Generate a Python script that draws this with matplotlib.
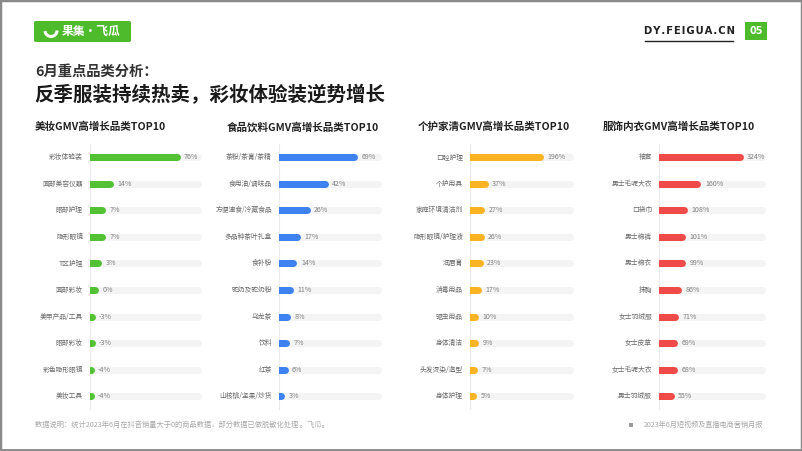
import numpy as np
import matplotlib
matplotlib.use("Agg")
import matplotlib.pyplot as plt
from matplotlib.patches import FancyBboxPatch, Rectangle, Arc

plt.rcParams['font.family'] = ['Noto Sans CJK SC', 'DejaVu Sans']

# ---- data ----
beauty_cats = ["彩妆体验装", "面部美容仪器", "眼部护理", "隐形眼镜", "T区护理",
               "面部彩妆", "美甲产品/工具", "眼部彩妆", "彩色隐形眼镜", "美妆工具"]
beauty_vals = [76, 14, 7, 7, 3, 0, -3, -3, -4, -4]

food_cats = ["茶粉/茶膏/茶精", "食用油/调味品", "方便速食/冷藏食品", "多品种茶叶礼盒", "食补粉",
             "驼奶及驼奶粉", "乌龙茶", "饮料", "红茶", "山核桃/坚果/炒货"]
food_vals = [69, 42, 26, 17, 14, 11, 8, 7, 6, 3]

care_cats = ["口腔护理", "个护用具", "家庭环境清洁剂", "隐形眼镜/护理液", "润唇膏",
             "消毒用品", "驱虫用品", "身体清洁", "头发烫染/造型", "身体护理"]
care_vals = [196, 37, 27, 26, 23, 17, 10, 9, 7, 5]

cloth_cats = ["袖套", "男士毛呢大衣", "口袋巾", "男士棉裤", "男士棉衣",
              "抹胸", "女士羽绒服", "女士皮草", "女士毛呢大衣", "男士羽绒服"]
cloth_vals = [324, 160, 108, 101, 99, 86, 71, 69, 68, 55]

panel_titles = ["美妆GMV高增长品类TOP10", "食品饮料GMV高增长品类TOP10",
                "个护家清GMV高增长品类TOP10", "服饰内衣GMV高增长品类TOP10"]

W, H = 802, 451
fig = plt.figure(figsize=(W / 100, H / 100), dpi=100)
fig.patch.set_facecolor("white")

def fx(x):
    return x / W

def fy(y):
    return 1 - y / H

GREEN = "#4dbb2b"

# border around slide
fig.add_artist(Rectangle((0, 0), 1, 1, transform=fig.transFigure, fill=False,
                         edgecolor="#8a8a8a", linewidth=2.5))
fig.add_artist(plt.Line2D([0, 1], [fy(449.5), fy(449.5)], transform=fig.transFigure,
                          color="#8a8a8a", linewidth=2))

# logo
fig.add_artist(FancyBboxPatch((fx(34), fy(42)), fx(97), 21 / H, boxstyle="round,pad=0,rounding_size=0.003",
                              transform=fig.transFigure, facecolor=GREEN, edgecolor="none"))
fig.add_artist(Arc((fx(51), fy(30.5)), 12 / W, 12 / H, theta1=190, theta2=360,
                   transform=fig.transFigure, color="white", linewidth=2.2))
fig.text(fx(62), fy(31.5), "果集·飞瓜", color="white", fontsize=8.5, fontweight="bold",
         va="center", ha="left")

# top right (letter spaced with hair spaces)
fig.text(fx(689), fy(31), "\u200a".join("DY.FEIGUA.CN"), fontsize=7.2, fontweight="bold",
         color="#222222", ha="center", va="center", family=["DejaVu Sans"])
fig.add_artist(plt.Line2D([fx(645), fx(733)], [fy(40.5), fy(40.5)], transform=fig.transFigure,
                          color="#222222", linewidth=1))
fig.add_artist(Rectangle((fx(745), fy(40)), 22 / W, 18 / H, transform=fig.transFigure,
                         facecolor=GREEN, edgecolor="none"))
fig.text(fx(756), fy(31), "05", color="white", fontsize=7, fontweight="bold",
         ha="center", va="center", family=["DejaVu Sans"])

# titles
fig.text(fx(35), fy(72), "6月重点品类分析：", fontsize=10.3, fontweight="bold", color="#333333",
         ha="left", va="center")
fig.text(fx(34), fy(95), "反季服装持续热卖，彩妆体验装逆势增长", fontsize=14, fontweight="bold",
         color="#1a1a1a", ha="left", va="center")

# panels: (cats, vals, color, axis px, track end px, max bar end px, base, title x)
panels = [
    (beauty_cats, beauty_vals, "#52c234", 90, 201, 180, -4.5, 35),
    (food_cats, food_vals, "#3d82f0", 279, 382, 358, 1.0, 227),
    (care_cats, care_vals, "#fab323", 470, 573, 543, -5, 418),
    (cloth_cats, cloth_vals, "#ef4b49", 659, 765, 743, 10, 603),
]

row_top, row_step = 157, 26.6
lw_px = 7
cap = lw_px / 2
lw_pt = lw_px * 0.72

for (cats, vals, col, L, T, M, base, tx), title in zip(panels, panel_titles):
    fig.text(fx(tx), fy(127), title, fontsize=7.6, fontweight="bold", color="#222222",
             ha="left", va="center")
    ax_w = T - L + 6
    y0 = row_top - row_step / 2
    ax_h = row_step * 10
    ax = fig.add_axes([fx(L), fy(y0 + ax_h), ax_w / W, ax_h / H])
    s = (max(vals) - base) / (M - cap - L)  # data per px
    ax.set_xlim(base, base + ax_w * s)
    ax.set_ylim(9.5, -0.5)
    ax.axis("off")
    y = np.arange(len(vals))
    track_end = base + (T - cap - L) * s
    ax.hlines(y, base, track_end, color="#f4f4f4", linewidth=lw_pt, capstyle="round", zorder=1)
    ax.hlines(y, base, vals, color=col, linewidth=lw_pt, capstyle="round", zorder=2)
    ax.axvline(base, color="#ebebeb", linewidth=0.8, zorder=0, ymin=0.0, ymax=1.0)
    for i, (c, v) in enumerate(zip(cats, vals)):
        ax.annotate(f"{v}%", xy=(v, i), xytext=((cap + 4) * 0.72, 0), textcoords="offset points",
                    fontsize=5.1, color="#808080", va="center", ha="left", annotation_clip=False)
        ax.annotate(c, xy=(base, i), xytext=(-7 * 0.72, 0), textcoords="offset points",
                    fontsize=4.9, color="#6a6a6a", va="center", ha="right", annotation_clip=False)

# footer
fig.text(fx(35), fy(424.5), "数据说明：统计2023年6月在抖音销量大于0的商品数据，部分数据已做脱敏化处理 。飞瓜。",
         fontsize=5.2, color="#a8a8a8", ha="left", va="center")
fig.add_artist(Rectangle((fx(629), fy(427)), 4 / W, 4 / H, transform=fig.transFigure,
                         facecolor="#9a9a9a", edgecolor="none"))
fig.text(fx(763), fy(424.5), "2023年6月短视频及直播电商营销月报", fontsize=5.1, color="#a8a8a8",
         ha="right", va="center")

fig.savefig("out.png", dpi=100)
